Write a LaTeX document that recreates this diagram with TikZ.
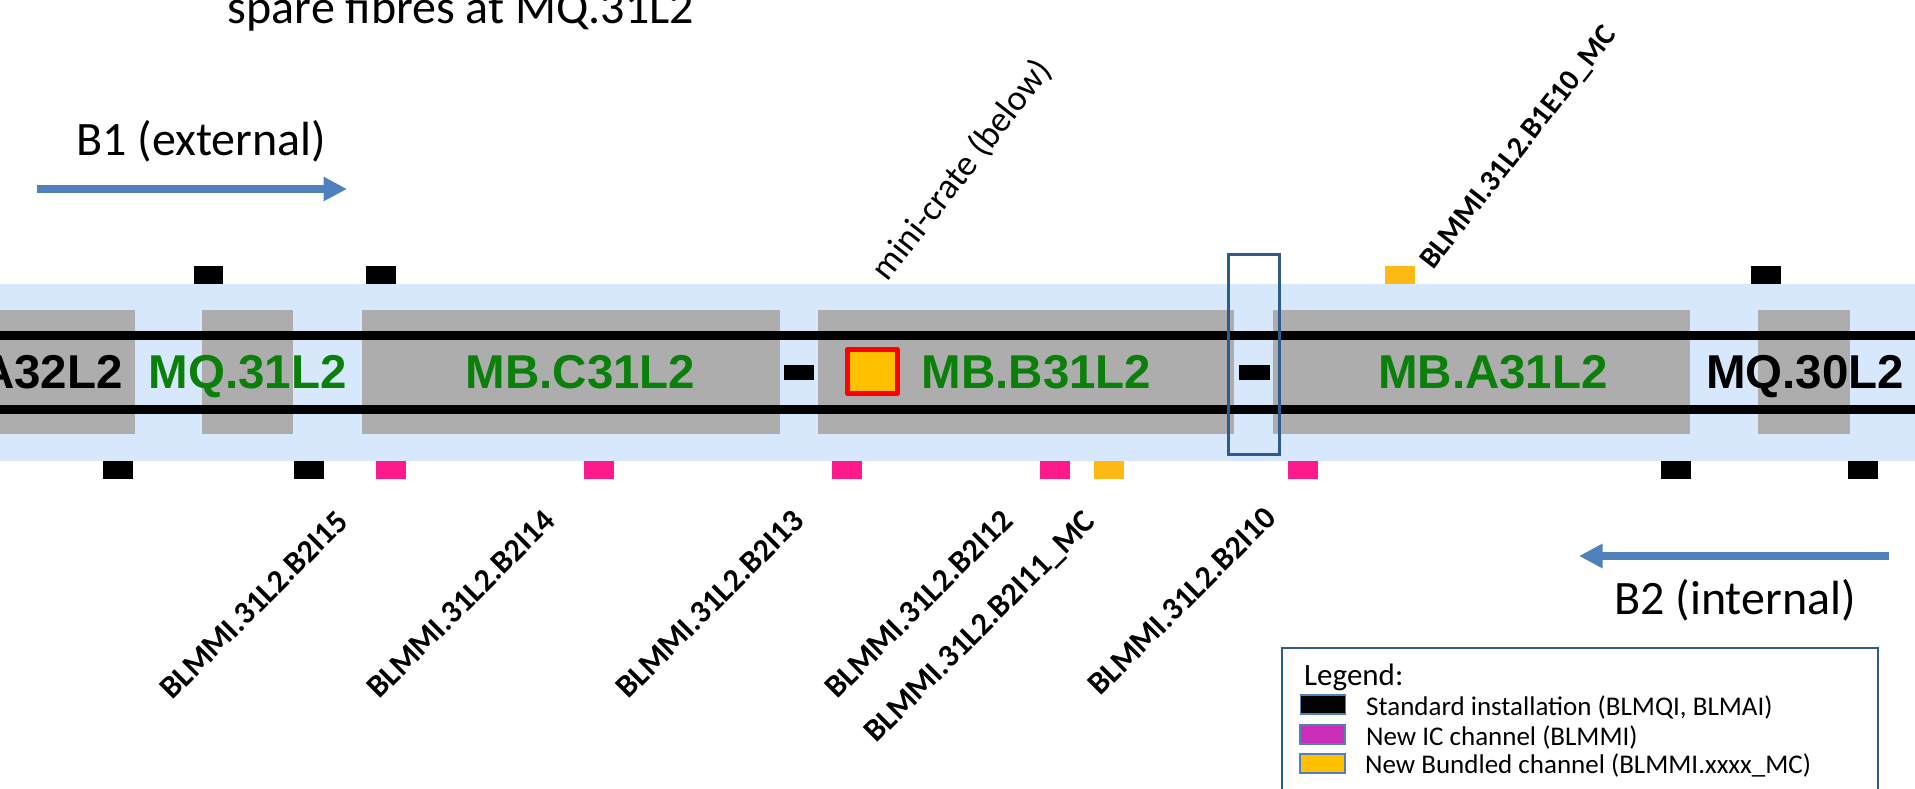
\documentclass[tikz,border=0pt]{standalone}
\usepackage{fontspec}
\setmainfont{Carlito}
\newfontfamily\magfont{Liberation Sans}[Scale=1]
\usetikzlibrary{arrows.meta}
\definecolor{bandblue}{HTML}{D8E8FC}
\definecolor{magrey}{HTML}{ADADAD}
\definecolor{maggreen}{HTML}{0A800A}
\definecolor{mkpink}{HTML}{FF1A8C}
\definecolor{mkorange}{HTML}{FFB914}
\definecolor{legmag}{HTML}{CC2EB8}
\definecolor{legorange}{HTML}{FFC000}
\definecolor{arrowblue}{HTML}{4F81BD}
\definecolor{boxblue}{HTML}{2F5A8C}
\tikzset{
  magnet/.style={inner sep=0pt,anchor=base,font=\magfont\bfseries\fontsize{47.5}{48}\selectfont},
  greenmag/.style={magnet,text=maggreen},
  blackmag/.style={magnet,text=black},
  chan/.style={inner sep=0pt,anchor=center,rotate=45,font=\bfseries\fontsize{32}{34}\selectfont},
  chansteep/.style={inner sep=0pt,anchor=center,rotate=52,font=\bfseries\fontsize{30}{32}\selectfont},
  beamtext/.style={inner sep=0pt,anchor=base west,font=\fontsize{48}{50}\selectfont},
  legtext/.style={inner sep=0pt,anchor=base west,font=\fontsize{27}{29}\selectfont},
  swatch/.style={draw=arrowblue,line width=1.5pt},
  beam/.style={draw=arrowblue,line width=8pt,-{Triangle[length=23.5pt,width=23pt]}},
}
\begin{document}
\begin{tikzpicture}[x=1pt,y=-1pt]
\useasboundingbox (0,0) rectangle (1915,788);
\clip (0,0) rectangle (1915,788);
% band
\fill[bandblue] (0,284) rectangle (1915,461);
% grey magnets
\foreach \a/\b in {-5/135,201.5/293,361.5/779.5,817.5/1234,1273/1690,1758/1850}
  \fill[magrey] (\a,310) rectangle (\b,434);
% beam pipes
\fill[black] (0,331) rectangle (1915,340);
\fill[black] (0,405) rectangle (1915,414);
% top markers
\foreach \a/\c in {193.5/black,366/black,1385/mkorange,1751/black}
  \fill[\c] (\a,266) rectangle ++(29.5,18);
% bottom markers
\foreach \a/\c in {103/black,293.5/black,376/mkpink,584/mkpink,832/mkpink,1040/mkpink,1094/mkorange,1288/mkpink,1660.5/black,1848/black}
  \fill[\c] (\a,461) rectangle ++(30,18);
% inner markers
\fill[black] (784,365) rectangle (814,380);
\fill[black] (1239,365) rectangle (1270,380);
% mini-crate
\draw[red,line width=5pt,fill=legorange,line join=round] (847.5,349.5) rectangle (897.5,393.5);
% magnet names
\node[blackmag,anchor=base east] (a32) at (123,388) {A32L2};
\node[greenmag] (mq31) at (247.5,388) {MQ.31L2};
\node[greenmag] (mbc) at (580.5,388) {MB.C31L2};
\node[greenmag] (mbb) at (1036.5,388) {MB.B31L2};
\node[greenmag] (mba) at (1493,388) {MB.A31L2};
\node[blackmag] (mq30) at (1805,388) {MQ.30L2};
% highlight box
\draw[boxblue,line width=3pt] (1228.5,254.5) rectangle (1279,454);
% titles
\node[beamtext,anchor=base] (spare) at (461,23) {spare fibres at MQ.31L2};
\node[beamtext] (b1) at (76,155) {B1 (external)};
\node[beamtext] (b2) at (1614,614) {B2 (internal)};
% beam arrows
\coordinate (b1s) at (37,189);
\coordinate (b1e) at (347,189);
\coordinate (b2s) at (1889,556);
\coordinate (b2e) at (1579,556);
\draw[beam] (b1s) -- (b1e);
\draw[beam] (b2s) -- (b2e);
% rotated labels
\node[inner sep=0pt,rotate=52,font=\fontsize{36}{38}\selectfont] (mini) at (962,170) {mini-crate (below)};
\node[chansteep] (l0) at (1519,148) {BLMMI.31L2.B1E10\_MC};
\node[chan] (l1) at (254,605) {BLMMI.31L2.B2I15};
\node[chan] (l2) at (461,604) {BLMMI.31L2.B2I14};
\node[chan] (l3) at (710,604) {BLMMI.31L2.B2I13};
\node[chan] (l4) at (919,604) {BLMMI.31L2.B2I12};
\node[chan] (l5) at (981,628) {BLMMI.31L2.B2I11\_MC};
\node[chan] (l6) at (1182,601) {BLMMI.31L2.B2I10};
% legend
\draw[boxblue,line width=2pt,fill=white] (1282,800) -- (1282,648) -- (1877.5,648) -- (1877.5,800);
\node[legtext,font=\fontsize{31}{33}\selectfont] (lt) at (1304,685) {Legend:};
\draw[swatch,fill=black] (1300.5,695) rectangle (1345.5,714);
\draw[swatch,fill=legmag] (1300,725) rectangle (1345,744);
\draw[swatch,fill=legorange] (1300,754) rectangle (1345,773);
\node[legtext] (lt1) at (1366,715) {Standard installation (BLMQI, BLMAI)};
\node[legtext] (lt2) at (1366,745) {New IC channel (BLMMI)};
\node[legtext] (lt3) at (1365,773) {New Bundled channel (BLMMI.xxxx\_MC)};
\end{tikzpicture}
\end{document}
